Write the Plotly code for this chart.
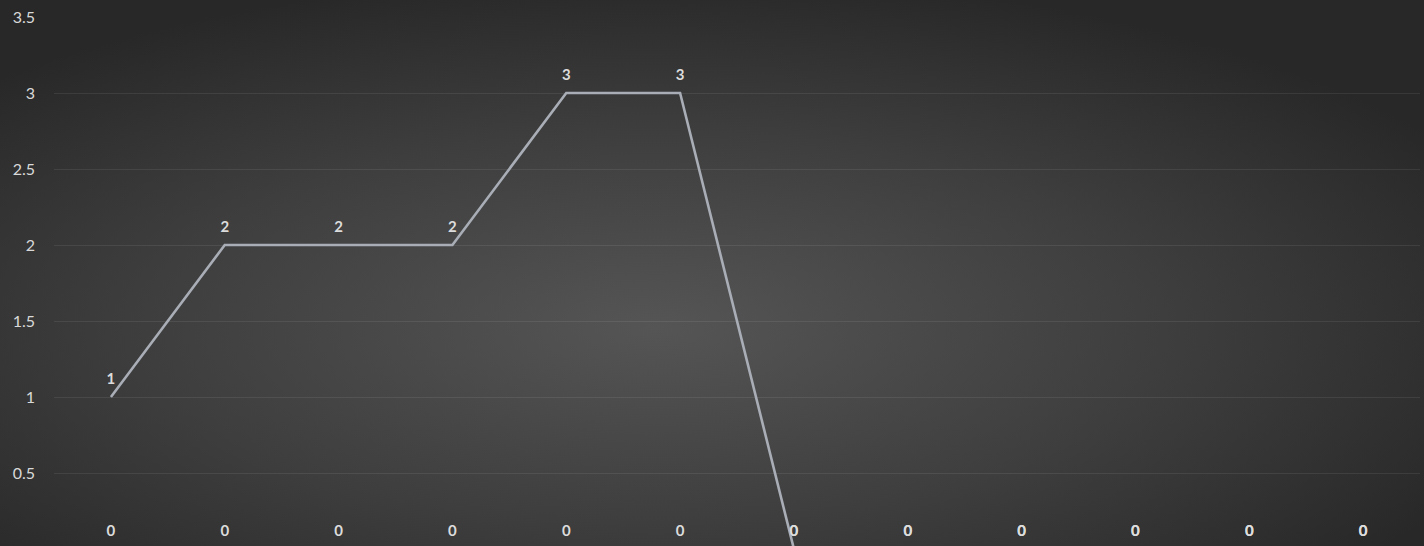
import base64
import plotly.graph_objects as go

categories = ["1", "2", "3", "4", "5", "6", "7", "8", "9", "10", "11", "12"]
series1 = [1, 2, 2, 2, 3, 3, 0, 0, 0, 0, 0, 0]
series2 = [0, 0, 0, 0, 0, 0, 0, 0, 0, 0, 0, 0]
y_ticks = [0, 0.5, 1, 1.5, 2, 2.5, 3, 3.5]
y_tick_labels = ["0", "0.5", "1", "1.5", "2", "2.5", "3", "3.5"]

W, H = 1424, 546
ML, MR, MT, MB = 54, 4, 17, 0
plot_w = W - ML - MR
plot_h = H - MT - MB

svg = f"""<svg xmlns='http://www.w3.org/2000/svg' width='{W}' height='{H}' viewBox='0 0 {W} {H}' preserveAspectRatio='none'>
<defs><radialGradient id='g' cx='46%' cy='60%' r='65%'>
<stop offset='0%' stop-color='#555555'/>
<stop offset='55%' stop-color='#3e3e3e'/>
<stop offset='100%' stop-color='#282828'/>
</radialGradient></defs>
<rect x='0' y='0' width='{W}' height='{H}' fill='url(#g)'/></svg>"""
bg_src = "data:image/svg+xml;base64," + base64.b64encode(svg.encode()).decode()

label_font = dict(family="Lato, Open Sans, sans-serif", size=15, color="#dcdcdc")
hidden_marker = dict(size=13, color="rgba(0,0,0,0)", line=dict(width=0))

fig = go.Figure()
fig.add_trace(go.Scatter(
    x=categories, y=series2, mode="lines+markers+text",
    line=dict(color="#ED7D31", width=2.5), marker=hidden_marker,
    text=[f"<b>{v}</b>" for v in series2], textposition="top center",
    textfont=label_font, hoverinfo="skip", showlegend=False,
))
fig.add_trace(go.Scatter(
    x=categories, y=series1, mode="lines+markers+text",
    line=dict(color="#A9ADB6", width=2.6), marker=hidden_marker,
    text=[f"<b>{v}</b>" for v in series1], textposition="top center",
    textfont=label_font, hoverinfo="skip", showlegend=False,
))

y_bottom = 3.5 - plot_h / 152.0

fig.update_layout(
    width=W, height=H,
    margin=dict(l=ML, r=MR, t=MT, b=MB, pad=0),
    paper_bgcolor="#2b2b2b",
    plot_bgcolor="rgba(0,0,0,0)",
    showlegend=False,
    images=[dict(
        source=bg_src, xref="paper", yref="paper",
        x=-ML / plot_w, y=1 + MT / plot_h,
        sizex=W / plot_w, sizey=H / plot_h,
        sizing="stretch", xanchor="left", yanchor="top", layer="below",
    )],
    xaxis=dict(
        type="category", range=[-0.5, 11.5], showgrid=False, zeroline=False,
        showticklabels=False, showline=False, ticks="",
    ),
    yaxis=dict(
        range=[y_bottom, 3.5], tickvals=y_ticks, ticktext=y_tick_labels,
        showgrid=True, gridcolor="rgba(255,255,255,0.08)", gridwidth=1,
        zeroline=False, showline=False, ticks="",
        tickfont=dict(family="Lato, Open Sans, sans-serif", size=16, color="#d9d9d9"),
        ticklabelstandoff=18,
    ),
)

fig.write_html("out.html")
